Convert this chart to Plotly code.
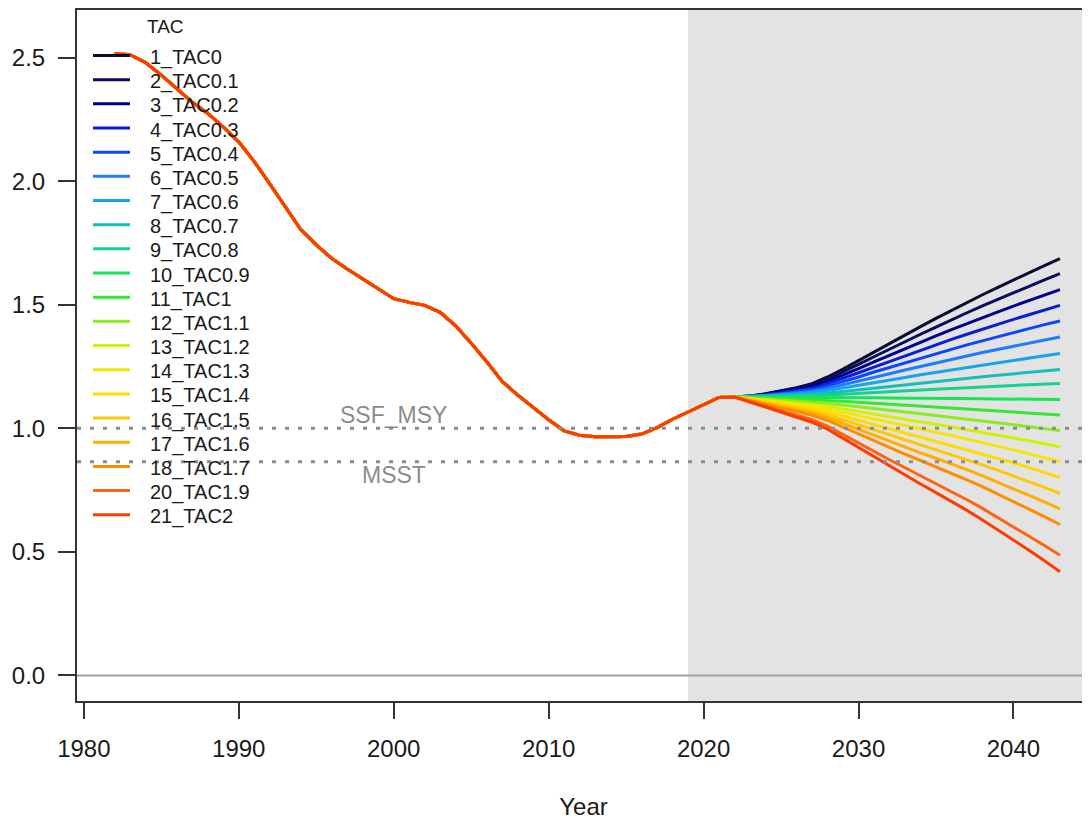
import plotly.graph_objects as go

# ---------------- data ----------------
hist_years = list(range(1982, 2023))
hist_values = [2.516, 2.513, 2.480, 2.430, 2.375, 2.320, 2.275, 2.220, 2.160, 2.080,
               1.990, 1.895, 1.805, 1.743, 1.688, 1.645, 1.605, 1.565, 1.525, 1.510,
               1.498, 1.470, 1.415, 1.345, 1.270, 1.190, 1.135, 1.085, 1.035, 0.990,
               0.972, 0.966, 0.966, 0.967, 0.977, 1.003, 1.037, 1.067, 1.097, 1.125,
               1.127]

proj_years = list(range(2023, 2044))

series_names = ["1_TAC0", "2_TAC0.1", "3_TAC0.2", "4_TAC0.3", "5_TAC0.4", "6_TAC0.5",
                "7_TAC0.6", "8_TAC0.7", "9_TAC0.8", "10_TAC0.9", "11_TAC1", "12_TAC1.1",
                "13_TAC1.2", "14_TAC1.3", "15_TAC1.4", "16_TAC1.5", "17_TAC1.6",
                "18_TAC1.7", "20_TAC1.9", "21_TAC2"]

series_colors = ["#0A0A32", "#0A0A5F", "#00008F", "#0A1ED2", "#0A46FF", "#1E7DFF",
                 "#14A5EB", "#14BEB9", "#14D291", "#14E655", "#37E632", "#8CEB1E",
                 "#D2F000", "#F5E600", "#FFDC00", "#FFC800", "#FFAF00", "#FF8C00",
                 "#FF6414", "#FF3C00"]

tac_1 = [1.131, 1.140, 1.152, 1.165, 1.181, 1.208, 1.240, 1.275, 1.310, 1.344, 1.378,
         1.412, 1.445, 1.478, 1.510, 1.541, 1.571, 1.601, 1.630, 1.659, 1.687]
tac_2 = [1.130, 1.139, 1.150, 1.161, 1.175, 1.199, 1.228, 1.259, 1.290, 1.321, 1.351,
         1.381, 1.410, 1.440, 1.468, 1.496, 1.523, 1.549, 1.575, 1.601, 1.626]
tac_3 = [1.130, 1.137, 1.147, 1.157, 1.169, 1.190, 1.215, 1.242, 1.269, 1.296, 1.322,
         1.348, 1.374, 1.400, 1.425, 1.449, 1.472, 1.495, 1.518, 1.540, 1.562]
tac_4 = [1.130, 1.136, 1.144, 1.152, 1.163, 1.181, 1.202, 1.225, 1.248, 1.271, 1.293,
         1.316, 1.338, 1.360, 1.381, 1.402, 1.421, 1.441, 1.460, 1.480, 1.498]
tac_5 = [1.129, 1.134, 1.141, 1.148, 1.157, 1.172, 1.189, 1.208, 1.228, 1.247, 1.265,
         1.284, 1.302, 1.320, 1.338, 1.355, 1.371, 1.388, 1.404, 1.420, 1.435]
tac_6 = [1.129, 1.133, 1.138, 1.144, 1.150, 1.162, 1.176, 1.191, 1.207, 1.221, 1.236,
         1.251, 1.265, 1.279, 1.293, 1.307, 1.320, 1.333, 1.345, 1.358, 1.370]
tac_7 = [1.128, 1.131, 1.135, 1.139, 1.144, 1.153, 1.163, 1.174, 1.185, 1.195, 1.206,
         1.217, 1.227, 1.237, 1.247, 1.257, 1.267, 1.276, 1.285, 1.294, 1.303]
tac_8 = [1.128, 1.130, 1.132, 1.135, 1.138, 1.143, 1.149, 1.156, 1.163, 1.170, 1.177,
         1.184, 1.190, 1.197, 1.203, 1.209, 1.215, 1.221, 1.227, 1.233, 1.238]
tac_9 = [1.127, 1.128, 1.130, 1.131, 1.132, 1.135, 1.138, 1.142, 1.145, 1.148, 1.152,
         1.155, 1.158, 1.162, 1.165, 1.168, 1.171, 1.174, 1.176, 1.179, 1.182]
tac_10 = [1.127, 1.126, 1.126, 1.126, 1.126, 1.125, 1.125, 1.124, 1.124, 1.123, 1.123,
          1.122, 1.122, 1.121, 1.120, 1.120, 1.119, 1.119, 1.118, 1.118, 1.117]
tac_11 = [1.125, 1.123, 1.121, 1.119, 1.117, 1.114, 1.110, 1.106, 1.102, 1.098, 1.094,
          1.091, 1.087, 1.083, 1.080, 1.076, 1.071, 1.067, 1.063, 1.059, 1.054]
tac_12 = [1.123, 1.119, 1.115, 1.111, 1.107, 1.102, 1.095, 1.087, 1.080, 1.073, 1.066,
          1.059, 1.052, 1.045, 1.038, 1.031, 1.023, 1.015, 1.007, 0.999, 0.990]
tac_13 = [1.121, 1.116, 1.110, 1.104, 1.098, 1.090, 1.079, 1.068, 1.058, 1.047, 1.037,
          1.026, 1.017, 1.006, 0.996, 0.985, 0.973, 0.962, 0.950, 0.938, 0.925]
tac_14 = [1.120, 1.112, 1.105, 1.097, 1.089, 1.079, 1.065, 1.051, 1.037, 1.023, 1.010,
          0.997, 0.984, 0.971, 0.957, 0.943, 0.928, 0.913, 0.897, 0.881, 0.865]
tac_15 = [1.118, 1.108, 1.099, 1.090, 1.080, 1.067, 1.050, 1.033, 1.015, 0.998, 0.981,
          0.965, 0.949, 0.932, 0.915, 0.897, 0.879, 0.861, 0.841, 0.821, 0.801]
tac_16 = [1.116, 1.105, 1.094, 1.082, 1.071, 1.055, 1.035, 1.014, 0.993, 0.973, 0.953,
          0.933, 0.914, 0.894, 0.874, 0.852, 0.830, 0.808, 0.785, 0.761, 0.737]
tac_17 = [1.114, 1.101, 1.089, 1.075, 1.062, 1.044, 1.020, 0.996, 0.971, 0.948, 0.925,
          0.901, 0.879, 0.857, 0.833, 0.808, 0.782, 0.757, 0.730, 0.702, 0.674]
tac_18 = [1.113, 1.098, 1.083, 1.068, 1.053, 1.032, 1.005, 0.977, 0.950, 0.923, 0.896,
          0.870, 0.845, 0.819, 0.792, 0.764, 0.734, 0.705, 0.675, 0.643, 0.611]
tac_20 = [1.109, 1.091, 1.073, 1.053, 1.035, 1.009, 0.976, 0.941, 0.907, 0.873, 0.841,
          0.808, 0.776, 0.744, 0.711, 0.676, 0.639, 0.603, 0.565, 0.526, 0.486]
tac_21 = [1.107, 1.087, 1.067, 1.046, 1.025, 0.997, 0.960, 0.922, 0.884, 0.847, 0.811,
          0.775, 0.740, 0.705, 0.668, 0.629, 0.589, 0.549, 0.507, 0.464, 0.420]

ref_msy = 1.0
ref_msst = 0.865
projection_start = 2019
x_ticks = [1980, 1990, 2000, 2010, 2020, 2030, 2040]
y_ticks = [0.0, 0.5, 1.0, 1.5, 2.0, 2.5]

projections = [tac_1, tac_2, tac_3, tac_4, tac_5, tac_6, tac_7, tac_8, tac_9, tac_10,
               tac_11, tac_12, tac_13, tac_14, tac_15, tac_16, tac_17, tac_18, tac_20,
               tac_21]

# ---------------- layout geometry ----------------
# the page body has an 8px margin; positions below are given in window pixels
OFF = 8
W, H = 1090 - OFF, 820 - OFF
PL, PT, PB, PR = 77 - OFF, 10 - OFF, 701 - OFF, 1090 - OFF
X_RANGE = [1979.56, 2044.94]
Y_RANGE = [-0.1036, 2.6936]
FONT = "Liberation Sans, Arial, sans-serif"
TXT = "#1a1a1a"


def pxx(px):
    return (px - OFF - PL) / (PR - PL)


def pxy(py):
    return (PB - (py - OFF)) / (PB - PT)


fig = go.Figure()

# shaded projection period
fig.add_shape(type="rect", xref="x", yref="paper", x0=projection_start, x1=X_RANGE[1],
              y0=0, y1=1, fillcolor="#E3E3E3", line_width=0, layer="below")
# zero line
fig.add_shape(type="line", xref="paper", yref="y", x0=0, x1=1, y0=0, y1=0,
              line=dict(color="#A0A0A0", width=2), layer="below")

years_all = hist_years + proj_years
for name, col, proj in zip(series_names, series_colors, projections):
    fig.add_trace(go.Scatter(x=years_all, y=hist_values + proj, mode="lines",
                             name=name, showlegend=False,
                             line=dict(color=col, width=3)))

# reference lines
for yv in (ref_msy, ref_msst):
    fig.add_shape(type="line", xref="paper", yref="y", x0=0, x1=1, y0=yv, y1=yv,
                  line=dict(color="#8C8C8C", width=3, dash="4px,9px"), layer="above")

annotations = [
    dict(x=2000, y=1.053, xref="x", yref="y", text="SSF_MSY", showarrow=False,
         font=dict(family=FONT, size=23, color="#8C8C8C"), xanchor="center",
         yanchor="middle"),
    dict(x=2000, y=0.813, xref="x", yref="y", text="MSST", showarrow=False,
         font=dict(family=FONT, size=23, color="#8C8C8C"), xanchor="center",
         yanchor="middle"),
    dict(x=pxx(145), y=pxy(26), xref="paper", yref="paper", text="TAC",
         showarrow=False, font=dict(family=FONT, size=19, color=TXT),
         xanchor="left", yanchor="middle"),
]

# manual legend (R-style, no box)
for i, (name, col) in enumerate(zip(series_names, series_colors)):
    ly = 55.5 + 24.17 * i
    fig.add_shape(type="line", xref="paper", yref="paper", x0=pxx(93), x1=pxx(130),
                  y0=pxy(ly), y1=pxy(ly), line=dict(color=col, width=3), layer="above")
    annotations.append(dict(x=pxx(148), y=pxy(ly + 2), xref="paper", yref="paper",
                            text=name, showarrow=False,
                            font=dict(family=FONT, size=20, color=TXT),
                            xanchor="left", yanchor="middle"))

fig.update_layout(
    width=W, height=H,
    margin=dict(l=PL, r=W - PR, t=PT, b=H - PB, pad=0),
    paper_bgcolor="white", plot_bgcolor="white",
    font=dict(family=FONT, color=TXT),
    annotations=annotations,
    showlegend=False,
)

fig.update_xaxes(range=X_RANGE, tickvals=x_ticks, ticks="outside", ticklen=16,
                 tickwidth=2, tickcolor="#333333", showline=True, linecolor="#333333",
                 linewidth=2, mirror=True, showgrid=False, zeroline=False,
                 tickfont=dict(family=FONT, size=24, color=TXT), automargin=False,
                 ticklabelstandoff=9,
                 title=dict(text="Year", font=dict(family=FONT, size=24, color=TXT),
                            standoff=38))
fig.update_yaxes(range=Y_RANGE, tickvals=y_ticks, tickformat=".1f", ticks="outside",
                 ticklen=17, tickwidth=2, tickcolor="#333333", showline=True,
                 linecolor="#333333", linewidth=2, mirror=False, showgrid=False,
                 zeroline=False, tickfont=dict(family=FONT, size=24, color=TXT),
                 automargin=False, ticklabelstandoff=8)

fig.write_html("out.html")
